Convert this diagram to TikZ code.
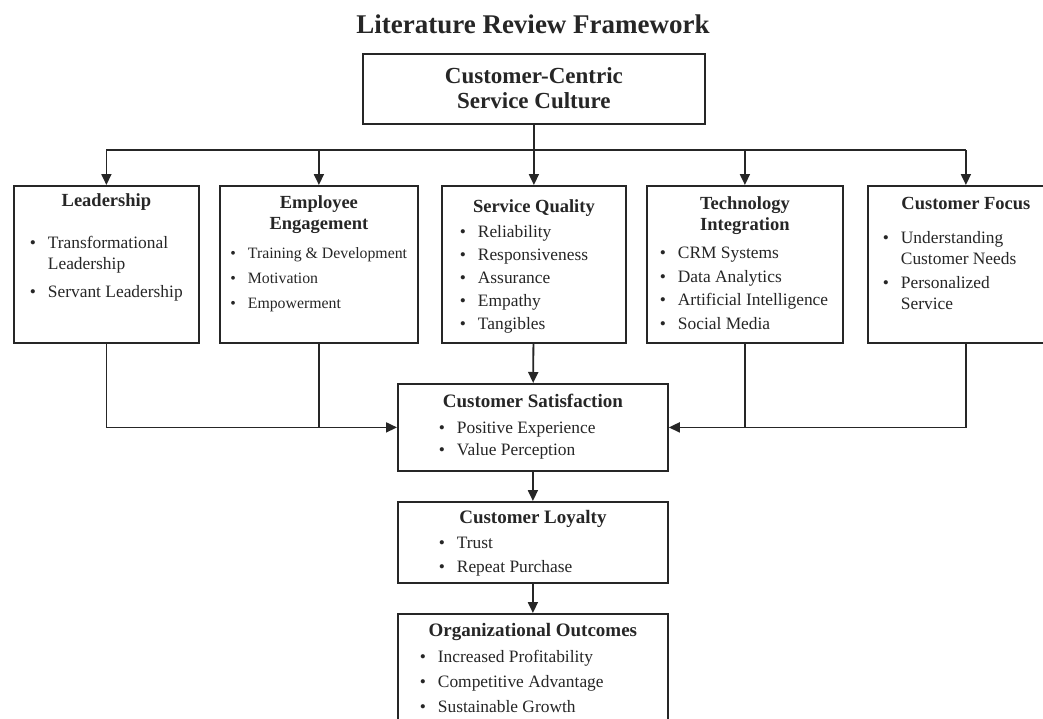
\documentclass[tikz,border=0pt]{standalone}
\usepackage{fontspec}
\setmainfont{Liberation Serif}
\usepackage{enumitem}
\usetikzlibrary{arrows.meta}
\definecolor{ink}{HTML}{262626}
\setlist[itemize]{label=\textbullet, topsep=0pt, partopsep=0pt, parsep=0pt, labelsep=12pt, itemsep=2pt}
\newcommand{\bodyfont}{\fontsize{17.4}{21}\selectfont}
\newcommand{\boxbody}[3]{\parbox[c][#2][t]{#1}{\bodyfont\raggedright #3}}
\newcommand{\boxhead}[3][18.5]{{\centering\fontsize{#1}{21}\selectfont\bfseries\rule{0pt}{#2}#3\par}}

\begin{document}
\begin{tikzpicture}[x=1pt, y=-1pt]
	\tikzstyle{frame} = [draw=ink, line width=1.8pt, inner sep=0pt, anchor=north west, text=ink]
	\tikzstyle{link} = [draw=ink, line width=1.8pt]
	\tikzstyle{arr} = [link, -{Triangle[length=11pt, width=10pt]}]
	\useasboundingbox[fill=white] (0,0) rectangle (1043,718);
	\node[anchor=base, text=ink, font=\fontsize{27}{30}\selectfont\bfseries] (title) at (533,33) {Literature Review Framework};
	\node[frame] (top) at (362,53) {\parbox[c][70pt][t]{342pt}{\centering\fontsize{23}{25}\selectfont\bfseries\rule{0pt}{30pt}Customer-Centric\\Service Culture}};
	\node[frame] (lead) at (13,185) {\boxbody{185pt}{157pt}{\boxhead{21pt}{Leadership}\vspace{21pt}
		\begin{itemize}[leftmargin=34pt, itemsep=7pt] \item Transformational\newline Leadership \item Servant Leadership \end{itemize}}};
	\node[frame] (emp) at (219,185) {\boxbody{198pt}{157pt}{\boxhead{23pt}{Employee\\Engagement}\vspace{8pt}
		{\fontsize{15.8}{21}\selectfont\begin{itemize}[leftmargin=28pt, itemsep=4pt] \item Training \& Development \item Motivation \item Empowerment \end{itemize}}}};
	\node[frame] (sq) at (441,185) {\boxbody{184pt}{157pt}{\boxhead{27pt}{Service Quality}\vspace{4pt}
		\begin{itemize}[leftmargin=36pt, itemsep=2pt] \item Reliability \item Responsiveness \item Assurance \item Empathy \item Tangibles \end{itemize}}};
	\node[frame] (tech) at (646,185) {\boxbody{196pt}{157pt}{\boxhead{24pt}{Technology\\Integration}\vspace{7pt}
		\begin{itemize}[leftmargin=31pt, itemsep=2.5pt] \item CRM Systems \item Data Analytics \item Artificial Intelligence \item Social Media \end{itemize}}};
	\node[frame] (cf) at (867,185) {\boxbody{196pt}{157pt}{\boxhead{24pt}{Customer Focus}\vspace{13pt}
		\begin{itemize}[leftmargin=33pt, itemsep=3pt] \item Understanding\newline Customer Needs \item Personalized\newline Service \end{itemize}}};
	\node[frame] (cs) at (397,383) {\boxbody{270pt}{87pt}{\boxhead[19]{24pt}{Customer Satisfaction}\vspace{5pt}
		\begin{itemize}[leftmargin=59pt, itemsep=1pt] \item Positive Experience \item Value Perception \end{itemize}}};
	\node[frame] (cl) at (397,501) {\boxbody{270pt}{81pt}{\boxhead[19]{22pt}{Customer Loyalty}\vspace{4pt}
		\begin{itemize}[leftmargin=59pt, itemsep=3pt] \item Trust \item Repeat Purchase \end{itemize}}};
	\node[frame] (oo) at (397,613) {\boxbody{270pt}{127pt}{\boxhead[19]{23pt}{Organizational Outcomes}\vspace{5pt}
		\begin{itemize}[leftmargin=40pt, itemsep=4pt] \item Increased Profitability \item Competitive Advantage \item Sustainable Growth \end{itemize}}};
	\coordinate (bus) at (533,150);
	\draw[link] (lead.north |- bus) -- (cf.north |- bus);
	\draw[arr] (top) -- (sq);
	\foreach \n in {lead, emp, tech, cf} \draw[arr] (\n.north |- bus) -- (\n.north);
	\draw[arr] (lead.south) |- (cs.west); \draw[link] (emp.south) -- (emp.south |- cs.west);
	\draw[arr] (cf.south) |- (cs.east); \draw[link] (tech.south) -- (tech.south |- cs.east);
	\draw[arr] (sq) -- (cs); \draw[arr] (cs) -- (cl); \draw[arr] (cl) -- (oo);
\end{tikzpicture}
\end{document}
